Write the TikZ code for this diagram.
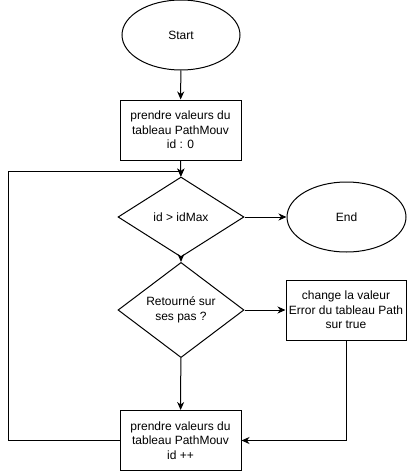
\documentclass[tikz,border=0pt]{standalone}
\usepackage{fontspec}
\setmainfont{Liberation Sans}
\usetikzlibrary{shapes.geometric,arrows.meta}
\begin{document}
\begin{tikzpicture}[x=1pt,y=-1pt,
  every node/.style={font=\fontsize{12}{14.5}\selectfont, align=center, inner sep=0pt, draw, line width=1pt},
  oval/.style={ellipse, minimum width=118pt, minimum height=70pt},
  procbox/.style={rectangle, minimum width=121pt, minimum height=60pt},
  decide/.style={diamond, minimum width=126pt, minimum height=80pt},
  arr/.style={-{Stealth[length=8pt,width=7pt,inset=2.5pt]}, line width=1pt}]
\useasboundingbox (0,0) rectangle (407,471);
\node[oval] (start) at (181,35) {Start};
\node[procbox] (b1) at (180.5,130) {prendre valeurs du\\tableau PathMouv\\id : 0};
\node[decide] (d1) at (181,217) {id > idMax};
\node[oval, minimum width=119pt] (end) at (346.5,217) {End};
\node[decide] (d2) at (181,310) {Retourné sur\\ses pas ?};
\node[procbox, minimum width=120pt] (b3) at (346,310) {change la valeur\\Error du tableau Path\\sur true};
\node[procbox] (b2) at (180.5,440.5) {prendre valeurs du\\tableau PathMouv\\id ++};
\coordinate (lt) at (8,171);
\draw[arr] (start) -- (b1);
\draw[arr] (b1) -- (d1);
\draw[arr] (d1) -- (end);
\draw[arr] (d1) -- (d2);
\draw[arr] (d2) -- (b3);
\draw[arr] (d2) -- (b2);
\draw[arr] (b3.south) |- (b2.east);
\draw[arr] (b2.west) -| (lt) -- (lt -| d1.north) -- (d1.north);
\end{tikzpicture}
\end{document}
